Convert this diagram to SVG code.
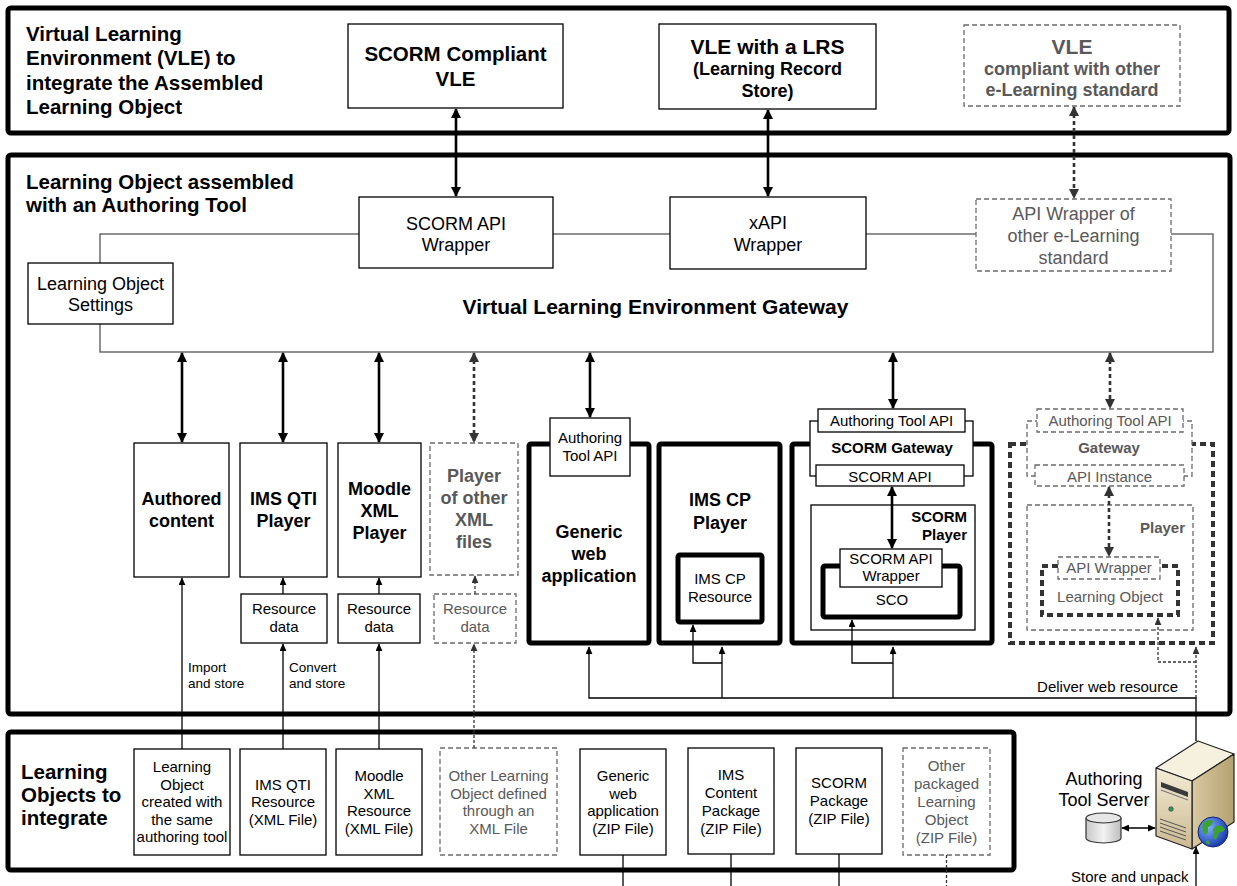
<svg xmlns="http://www.w3.org/2000/svg" width="1237" height="886" viewBox="0 0 1237 886">
<style>
text{font-family:"Liberation Sans",Arial,sans-serif;fill:#000}
.c{text-anchor:middle}
.r{text-anchor:end}
.b{font-weight:bold}
.s13{font-size:13.5px}
.s15{font-size:15px}
.s18{font-size:18px}
.s20{font-size:20.5px}
.g{fill:#595959}
.band{fill:none;stroke:#000;stroke-width:5}
.box{fill:#fff;stroke:#000;stroke-width:1.3}
.dbox{fill:#fff;stroke:#6b6b6b;stroke-width:1.3;stroke-dasharray:5 3}
.thick{fill:#fff;stroke:#000;stroke-width:5}
.dthick{fill:#fff;stroke:#333;stroke-width:4;stroke-dasharray:6 4}
.gw{fill:none;stroke:#555;stroke-width:1.3}
.ln{fill:none;stroke:#000;stroke-width:1.3}
.lnd{fill:none;stroke:#333;stroke-width:1.3;stroke-dasharray:3 2}
.arb{fill:none;stroke:#000;stroke-width:2.6}
.arbd{fill:none;stroke:#333;stroke-width:2.6;stroke-dasharray:4 3}
</style>
<defs>
<marker id="ah" viewBox="0 0 10 10" refX="9" refY="5" markerWidth="8" markerHeight="7" markerUnits="userSpaceOnUse" orient="auto-start-reverse" preserveAspectRatio="none"><path d="M0,0L10,5L0,10z" fill="#000"/></marker>
<marker id="ahd" viewBox="0 0 10 10" refX="9" refY="5" markerWidth="8" markerHeight="7" markerUnits="userSpaceOnUse" orient="auto-start-reverse" preserveAspectRatio="none"><path d="M0,0L10,5L0,10z" fill="#333"/></marker>
<marker id="ahb" viewBox="0 0 10 10" refX="9" refY="5" markerWidth="10" markerHeight="10" markerUnits="userSpaceOnUse" orient="auto-start-reverse" preserveAspectRatio="none"><path d="M0,0L10,5L0,10z" fill="#000"/></marker>
<marker id="ahbd" viewBox="0 0 10 10" refX="9" refY="5" markerWidth="10" markerHeight="10" markerUnits="userSpaceOnUse" orient="auto-start-reverse" preserveAspectRatio="none"><path d="M0,0L10,5L0,10z" fill="#333"/></marker>
<linearGradient id="front" x1="0" y1="0" x2="0" y2="1"><stop offset="0" stop-color="#f4ecd6"/><stop offset="1" stop-color="#cbb991"/></linearGradient>
<linearGradient id="side" x1="0" y1="0" x2="1" y2="0"><stop offset="0" stop-color="#d9c9a0"/><stop offset="1" stop-color="#b5a272"/></linearGradient>
<radialGradient id="globe" cx="0.35" cy="0.35" r="0.7"><stop offset="0" stop-color="#7fb0ff"/><stop offset="1" stop-color="#1536a8"/></radialGradient>
<linearGradient id="cyl" x1="0" y1="0" x2="1" y2="0"><stop offset="0" stop-color="#c8c8c8"/><stop offset="0.5" stop-color="#f2f2f2"/><stop offset="1" stop-color="#bdbdbd"/></linearGradient>
</defs>
<rect width="1237" height="886" fill="#fff"/>

<!-- VLE band -->
<g id="vle-band">
<rect class="band" x="8" y="8" width="1221" height="125" rx="3"/>
<text class="b s20" x="26" y="41">Virtual Learning</text>
<text class="b s20" x="26" y="65">Environment (VLE) to</text>
<text class="b s20" x="26" y="90">integrate the Assembled</text>
<text class="b s20" x="26" y="114">Learning Object</text>
</g>
<g id="scorm-vle">
<rect class="box" x="348" y="24" width="215" height="84"/>
<text class="b s20 c" x="455.5" y="61">SCORM Compliant</text>
<text class="b s20 c" x="455.5" y="86">VLE</text>
</g>
<g id="lrs-vle">
<rect class="box" x="659" y="24" width="217" height="85"/>
<text class="b c" style="font-size:21px" x="767.5" y="54">VLE with a LRS</text>
<text class="b s18 c" x="767.5" y="75">(Learning Record</text>
<text class="b s18 c" x="767.5" y="97">Store)</text>
</g>
<g id="other-vle">
<rect class="dbox" x="964" y="25" width="216" height="81"/>
<text class="b g c" style="font-size:21px" x="1072" y="54">VLE</text>
<text class="b g s18 c" x="1072" y="75">compliant with other</text>
<text class="b g s18 c" x="1072" y="96">e-Learning standard</text>
</g>

<!-- Learning object band -->
<g id="lo-band">
<rect class="band" x="8" y="155" width="1222" height="559" rx="3"/>
<text class="b s20" x="26" y="189">Learning Object assembled</text>
<text class="b s20" x="26" y="212">with an Authoring Tool</text>
</g>
<g id="vle-gateway">
<rect class="gw" x="100" y="234" width="1113" height="118"/>
<text class="b c" style="font-size:21px" x="655.5" y="314">Virtual Learning Environment Gateway</text>
</g>
<g id="lo-settings">
<rect class="box" x="28" y="263" width="145" height="61"/>
<text class="s18 c" x="100.5" y="289.5">Learning Object</text>
<text class="s18 c" x="100.5" y="310.5">Settings</text>
</g>
<g id="scorm-wrapper">
<rect class="box" x="359" y="197" width="194" height="71"/>
<text class="s18 c" x="456" y="230">SCORM API</text>
<text class="s18 c" x="456" y="251">Wrapper</text>
</g>
<g id="xapi-wrapper">
<rect class="box" x="670" y="197" width="196" height="72"/>
<text class="s18 c" x="768" y="229">xAPI</text>
<text class="s18 c" x="768" y="251">Wrapper</text>
</g>
<g id="other-wrapper">
<rect class="dbox" x="976" y="199" width="195" height="72"/>
<text class="s18 c g" x="1073.5" y="219.5">API Wrapper of</text>
<text class="s18 c g" x="1073.5" y="242">other e-Learning</text>
<text class="s18 c g" x="1073.5" y="264">standard</text>
</g>

<g id="authored-content">
<rect class="box" x="134" y="443" width="95" height="134"/>
<text class="b s18 c" x="181.5" y="505">Authored</text>
<text class="b s18 c" x="181.5" y="527">content</text>
</g>
<g id="qti-player">
<rect class="box" x="240" y="443" width="87" height="134"/>
<text class="b s18 c" x="283.5" y="505">IMS QTI</text>
<text class="b s18 c" x="283.5" y="527">Player</text>
</g>
<g id="moodle-player">
<rect class="box" x="338" y="443" width="83" height="134"/>
<text class="b s18 c" x="379.5" y="494.5">Moodle</text>
<text class="b s18 c" x="379.5" y="516.5">XML</text>
<text class="b s18 c" x="379.5" y="538.5">Player</text>
</g>
<g id="other-xml-player">
<rect class="dbox" x="430" y="443" width="88" height="132"/>
<text class="b s18 c g" x="474" y="482">Player</text>
<text class="b s18 c g" x="474" y="504">of other</text>
<text class="b s18 c g" x="474" y="526">XML</text>
<text class="b s18 c g" x="474" y="548">files</text>
</g>
<g id="qti-data">
<rect class="box" x="241" y="594" width="86" height="49"/>
<text class="s15 c" x="284" y="614">Resource</text>
<text class="s15 c" x="284" y="632">data</text>
</g>
<g id="moodle-data">
<rect class="box" x="338" y="594" width="82" height="49"/>
<text class="s15 c" x="379" y="614">Resource</text>
<text class="s15 c" x="379" y="632">data</text>
</g>
<g id="other-xml-data">
<rect class="dbox" x="434" y="594" width="82" height="49"/>
<text class="s15 c g" x="475" y="614">Resource</text>
<text class="s15 c g" x="475" y="632">data</text>
</g>

<g id="generic-web-app">
<rect class="thick" x="529" y="444" width="120" height="199" rx="2"/>
<rect class="box" x="550" y="418" width="80" height="58"/>
<text class="s15 c" x="590" y="443">Authoring</text>
<text class="s15 c" x="590" y="461">Tool API</text>
<text class="b s18 c" x="589" y="538">Generic</text>
<text class="b s18 c" x="589" y="560">web</text>
<text class="b s18 c" x="589" y="582">application</text>
</g>
<g id="ims-cp-player">
<rect class="thick" x="659" y="444" width="121" height="199" rx="2"/>
<text class="b s18 c" x="720" y="505.5">IMS CP</text>
<text class="b s18 c" x="720" y="528.5">Player</text>
<rect class="thick" x="678" y="555" width="84" height="67" rx="2"/>
<text class="s15 c" x="720" y="584">IMS CP</text>
<text class="s15 c" x="720" y="602">Resource</text>
</g>
<g id="scorm-player">
<rect class="thick" x="792" y="444" width="200" height="199" rx="2"/>
<rect class="box" x="810" y="421" width="163" height="55"/>
<rect class="box" x="818" y="409" width="147" height="23"/>
<text class="s15 c" x="891.5" y="425.5">Authoring Tool API</text>
<text class="b s15 c" x="892" y="453">SCORM Gateway</text>
<rect class="box" x="816" y="465" width="148" height="21"/>
<text class="s15 c" x="890" y="481.5">SCORM API</text>
<rect class="box" x="811" y="505" width="164" height="125"/>
<text class="b s15 r" x="967" y="522">SCORM</text>
<text class="b s15 r" x="967" y="540">Player</text>
<rect class="thick" x="823" y="566" width="137" height="51" rx="2"/>
<rect class="box" x="840" y="549" width="102" height="38"/>
<text class="s15 c" x="891" y="564">SCORM API</text>
<text class="s15 c" x="891" y="581">Wrapper</text>
<text class="s15 c" x="892" y="605">SCO</text>
</g>
<g id="other-player">
<rect class="dthick" x="1010" y="444" width="203" height="199"/>
<rect class="dbox" x="1027" y="421" width="165" height="55"/>
<rect class="dbox" x="1037" y="409" width="146" height="23"/>
<text class="s15 c g" x="1110" y="425.5">Authoring Tool API</text>
<text class="b s15 c g" x="1109" y="453">Gateway</text>
<rect class="dbox" x="1035" y="465" width="149" height="21"/>
<text class="s15 c g" x="1109.5" y="481.5">API Instance</text>
<rect class="dbox" x="1027" y="505" width="166" height="125"/>
<text class="b s15 r g" x="1185" y="533">Player</text>
<rect class="dthick" x="1042" y="566" width="136" height="49"/>
<rect class="dbox" x="1058" y="557" width="102" height="22"/>
<text class="s15 c g" x="1109" y="573">API Wrapper</text>
<text class="s15 c g" x="1110" y="602">Learning Object</text>
</g>

<!-- Learning objects to integrate band -->
<g id="source-band">
<rect class="band" x="8" y="732" width="1006" height="138" rx="3"/>
<text class="b s20" x="21" y="779">Learning</text>
<text class="b s20" x="21" y="802">Objects to</text>
<text class="b s20" x="21" y="825">integrate</text>
</g>
<g id="src-authored">
<rect class="box" x="134" y="749" width="96" height="106"/>
<text class="s15 c" x="182" y="772">Learning</text>
<text class="s15 c" x="182" y="789.5">Object</text>
<text class="s15 c" x="182" y="807">created with</text>
<text class="s15 c" x="182" y="824.5">the same</text>
<text class="s15 c" x="182" y="842">authoring tool</text>
</g>
<g id="src-qti">
<rect class="box" x="240" y="749" width="86" height="106"/>
<text class="s15 c" x="283" y="789.5">IMS QTI</text>
<text class="s15 c" x="283" y="807">Resource</text>
<text class="s15 c" x="283" y="824.5">(XML File)</text>
</g>
<g id="src-moodle">
<rect class="box" x="336" y="749" width="86" height="106"/>
<text class="s15 c" x="379" y="781">Moodle</text>
<text class="s15 c" x="379" y="798.5">XML</text>
<text class="s15 c" x="379" y="816">Resource</text>
<text class="s15 c" x="379" y="833.5">(XML File)</text>
</g>
<g id="src-other-xml">
<rect class="dbox" x="440" y="748" width="117" height="107"/>
<text class="s15 c g" x="498.5" y="781">Other Learning</text>
<text class="s15 c g" x="498.5" y="798.5">Object defined</text>
<text class="s15 c g" x="498.5" y="816">through an</text>
<text class="s15 c g" x="498.5" y="833.5">XML File</text>
</g>
<g id="src-generic">
<rect class="box" x="580" y="749" width="86" height="106"/>
<text class="s15 c" x="623" y="781">Generic</text>
<text class="s15 c" x="623" y="798.5">web</text>
<text class="s15 c" x="623" y="816">application</text>
<text class="s15 c" x="623" y="833.5">(ZIP File)</text>
</g>
<g id="src-ims-cp">
<rect class="box" x="688" y="748" width="86" height="106"/>
<text class="s15 c" x="731" y="780">IMS</text>
<text class="s15 c" x="731" y="798">Content</text>
<text class="s15 c" x="731" y="816">Package</text>
<text class="s15 c" x="731" y="834">(ZIP File)</text>
</g>
<g id="src-scorm">
<rect class="box" x="796" y="748" width="86" height="106"/>
<text class="s15 c" x="839" y="788">SCORM</text>
<text class="s15 c" x="839" y="806">Package</text>
<text class="s15 c" x="839" y="824">(ZIP File)</text>
</g>
<g id="src-other-zip">
<rect class="dbox" x="903" y="748" width="87" height="107"/>
<text class="s15 c g" x="946.5" y="771">Other</text>
<text class="s15 c g" x="946.5" y="789">packaged</text>
<text class="s15 c g" x="946.5" y="807">Learning</text>
<text class="s15 c g" x="946.5" y="825">Object</text>
<text class="s15 c g" x="946.5" y="843">(ZIP File)</text>
</g>

<!-- authoring tool server -->
<g id="server">
<text class="c" style="font-size:18px" x="1104" y="785">Authoring</text>
<text class="c" style="font-size:18px" x="1104" y="806">Tool Server</text>
<path d="M1086,818 V838 A17.5,5 0 0 0 1121,838 V818" fill="url(#cyl)" stroke="#333" stroke-width="1.2"/>
<ellipse cx="1103.5" cy="818" rx="17.5" ry="5" fill="#e6e6e6" stroke="#333" stroke-width="1.2"/>
<path d="M1156,768 L1198,741 L1234,754 L1192,781 Z" fill="#f6f0df" stroke="#222" stroke-width="1.2" stroke-linejoin="round"/>
<path d="M1192,781 L1234,754 L1234,822 L1192,849 Z" fill="url(#side)" stroke="#222" stroke-width="1.2" stroke-linejoin="round"/>
<path d="M1156,768 L1192,781 L1192,849 L1156,836 Z" fill="url(#front)" stroke="#222" stroke-width="1.2" stroke-linejoin="round"/>
<path d="M1161,782 L1188,792 L1188,797 L1161,787 Z" fill="#3a3a3a"/>
<path d="M1161,790 L1188,800" stroke="#777" stroke-width="1.2"/>
<circle cx="1171" cy="809" r="2.3" fill="#2e9b5a" stroke="#333" stroke-width="0.6"/>
<path d="M1160,819 L1186,828 M1160,823 L1186,832 M1160,827 L1186,836 M1160,831 L1186,840" stroke="#555" stroke-width="1"/>
<circle cx="1213" cy="832" r="15" fill="url(#globe)" stroke="#0d2470" stroke-width="1"/>
<path d="M1203,823 q5,-5 10,-2 q-1,5 -5,6 q1,5 -3,8 q-4,-4 -2,-12z M1216,826 q6,-2 9,3 q-2,4 -6,3 q-1,5 -4,8 q-3,-3 -1,-8 q-3,-2 2,-6z M1207,840 q3,1 3,4 q-2,1 -4,-1z" fill="#3aa32e"/>
</g>

<!-- connectors -->
<g id="connectors">
<path class="arb" d="M456,109 V196" marker-start="url(#ahb)" marker-end="url(#ahb)"/>
<path class="arb" d="M768,110 V196" marker-start="url(#ahb)" marker-end="url(#ahb)"/>
<path class="arbd" d="M1074,107 V198" marker-start="url(#ahbd)" marker-end="url(#ahbd)"/>
<path class="arb" d="M182,353 V442" marker-start="url(#ahb)" marker-end="url(#ahb)"/>
<path class="arb" d="M283,353 V442" marker-start="url(#ahb)" marker-end="url(#ahb)"/>
<path class="arb" d="M379,353 V442" marker-start="url(#ahb)" marker-end="url(#ahb)"/>
<path class="arbd" d="M474,353 V442" marker-start="url(#ahbd)" marker-end="url(#ahbd)"/>
<path class="arb" d="M590,353 V417" marker-start="url(#ahb)" marker-end="url(#ahb)"/>
<path class="arb" d="M893,353 V408" marker-start="url(#ahb)" marker-end="url(#ahb)"/>
<path class="arbd" d="M1110,353 V408" marker-start="url(#ahbd)" marker-end="url(#ahbd)"/>
<path class="arb" d="M892,487 V548" marker-start="url(#ahb)" marker-end="url(#ahb)"/>
<path class="arbd" d="M1109,487 V556" marker-start="url(#ahbd)" marker-end="url(#ahbd)"/>

<path class="ln" d="M182,749 V578" marker-end="url(#ah)"/>
<path class="ln" d="M283,749 V644" marker-end="url(#ah)"/>
<path class="ln" d="M283,594 V578" marker-end="url(#ah)"/>
<path class="ln" d="M379,749 V644" marker-end="url(#ah)"/>
<path class="ln" d="M379,594 V578" marker-end="url(#ah)"/>
<path class="lnd" d="M474,748 V644" marker-end="url(#ahd)"/>
<path class="lnd" d="M475,594 V576" marker-end="url(#ahd)"/>
<text class="s13" x="188" y="672">Import</text>
<text class="s13" x="188" y="688">and store</text>
<text class="s13" x="289" y="672">Convert</text>
<text class="s13" x="289" y="688">and store</text>

<path class="ln" d="M1196,741 V698 H589 V647" marker-end="url(#ah)"/>
<path class="ln" d="M722,698 V647" marker-end="url(#ah)"/>
<path class="ln" d="M722,663 H693 V625" marker-end="url(#ah)"/>
<path class="ln" d="M893,698 V647" marker-end="url(#ah)"/>
<path class="ln" d="M893,663 H852 V620" marker-end="url(#ah)"/>
<path class="lnd" d="M1196,698 V647" marker-end="url(#ahd)"/>
<path class="lnd" d="M1196,662 H1158 V618" marker-end="url(#ahd)"/>
<text class="s15 r" x="1178" y="692">Deliver web resource</text>

<path class="ln" d="M1196,886 V847" marker-end="url(#ah)"/>
<path class="ln" d="M1122,828 H1155" marker-start="url(#ah)" marker-end="url(#ah)"/>
<text class="s15" x="1071" y="882">Store and unpack</text>

<path class="ln" d="M623,855 V886"/>
<path class="ln" d="M731,854 V886"/>
<path class="ln" d="M839,854 V886"/>
<path class="lnd" d="M946.5,855 V886"/>
</g>
</svg>
